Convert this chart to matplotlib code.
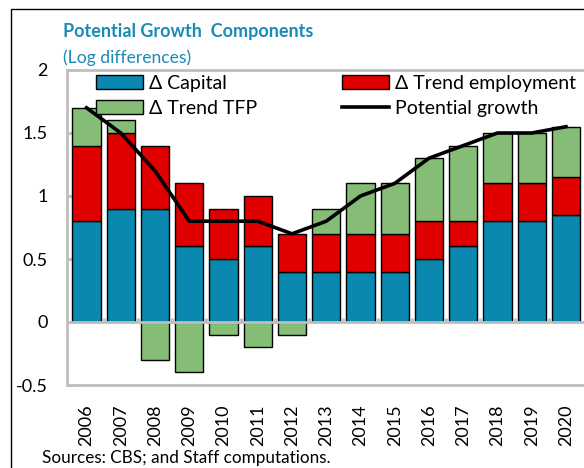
import numpy as np
import matplotlib
matplotlib.use("Agg")
import matplotlib.pyplot as plt
from matplotlib.patches import Rectangle

plt.rcParams['font.family'] = ['Lato', 'DejaVu Sans']

years = ['2006', '2007', '2008', '2009', '2010', '2011', '2012', '2013',
         '2014', '2015', '2016', '2017', '2018', '2019', '2020']
capital = [0.8, 0.9, 0.9, 0.6, 0.5, 0.6, 0.4, 0.4, 0.4, 0.4, 0.5, 0.6, 0.8, 0.8, 0.85]
employment = [0.6, 0.6, 0.5, 0.5, 0.4, 0.4, 0.3, 0.3, 0.3, 0.3, 0.3, 0.2, 0.3, 0.3, 0.3]
tfp = [0.3, 0.1, -0.3, -0.4, -0.1, -0.2, -0.1, 0.2, 0.4, 0.4, 0.5, 0.6, 0.4, 0.4, 0.4]
potential = [1.7, 1.5, 1.2, 0.8, 0.8, 0.8, 0.7, 0.8, 1.0, 1.1, 1.3, 1.4, 1.5, 1.5, 1.55]

c_cap = '#0B88B0'
c_emp = '#E00000'
c_tfp = '#85BC76'
c_title = '#1A8AB8'
c_grid = '#BFBFBF'

W, H = 584, 468
fig = plt.figure(figsize=(W / 100, H / 100), dpi=100)
ax = fig.add_axes([67 / W, 83 / H, 518.5 / W, 315 / H])

x = np.arange(len(years))
cap = np.array(capital)
emp = np.array(employment)
tf = np.array(tfp)
tfp_bottom = np.where(tf > 0, cap + emp, 0)

bw = 0.83
ax.bar(x, cap, bw, color=c_cap, edgecolor='black', linewidth=1.0, label='\u0394 Capital', zorder=2)
ax.bar(x, emp, bw, bottom=cap, color=c_emp, edgecolor='black', linewidth=1.0,
       label='\u0394 Trend employment', zorder=2)
ax.bar(x, tf, bw, bottom=tfp_bottom, color=c_tfp, edgecolor='black', linewidth=1.0,
       label='\u0394 Trend TFP', zorder=2)
ax.plot(x, potential, color='black', linewidth=2.6, label='Potential growth', zorder=4)

# zero line with small ticks between categories
ax.axhline(0, color=c_grid, linewidth=2, zorder=3)
for b in x[:-1] + 0.5:
    ax.plot([b, b], [0, 0.03], color=c_grid, linewidth=2, zorder=3, solid_capstyle='butt')

ax.set_xlim(-0.57, len(years) - 0.43)
ax.set_ylim(-0.5, 2)
ax.set_yticks([-0.5, 0, 0.5, 1, 1.5, 2])
ax.set_yticklabels(['-0.5', '0', '0.5', '1', '1.5', '2'])
ax.set_xticks(x)
ax.set_xticklabels(years, rotation=90)
ax.tick_params(axis='y', direction='in', length=4, width=2, color=c_grid, pad=14, labelsize=13)
ax.tick_params(axis='x', length=0, pad=14, labelsize=13)
for s in ax.spines.values():
    s.set_color(c_grid)
    s.set_linewidth(2)

h, l = ax.get_legend_handles_labels()
order = [1, 3, 2, 0]  # capital, tfp | employment, potential
leg = ax.legend([h[i] for i in order], [l[i] for i in order], ncol=2, frameon=False,
                loc='upper left', bbox_to_anchor=(0.056, 0.985), borderpad=0,
                borderaxespad=0, handlelength=2.4, handletextpad=0.3,
                columnspacing=4.4, labelspacing=0.42, fontsize=14)

fig.text(63 / W, 1 - 32 / H, 'Potential Growth  Components', color=c_title,
         fontsize=13, fontweight='bold', va='center')
fig.text(63 / W, 1 - 58 / H, '(Log differences)', color=c_title, fontsize=12.6, va='center')
fig.text(42 / W, 1 - 458 / H, 'Sources: CBS; and Staff computations.', fontsize=12.3,
         va='center')

fig.patches.append(Rectangle((10.5 / W, -0.1), 1.2, 1.1 - 9.5 / H, transform=fig.transFigure,
                             fill=False, edgecolor='black', linewidth=1))

fig.savefig('out.png', dpi=100)
